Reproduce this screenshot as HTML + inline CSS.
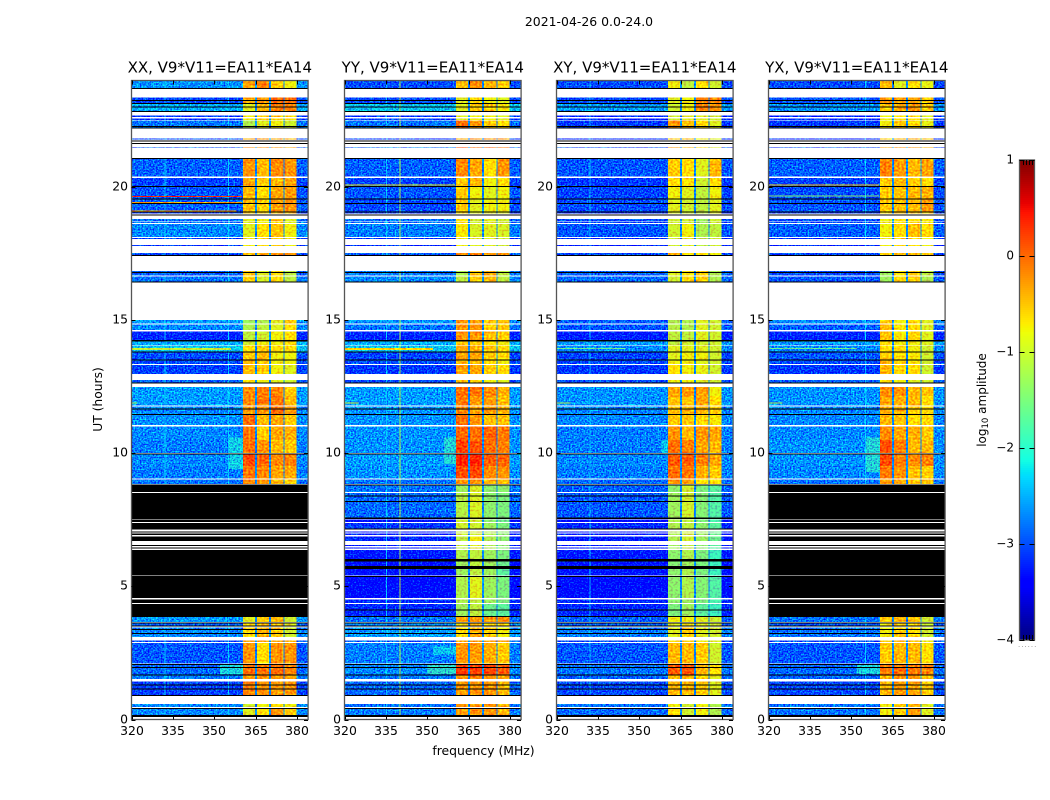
<!DOCTYPE html>
<html lang="en">
<head>
<meta charset="utf-8">
<title>2021-04-26 spectrogram</title>
<style>
html,body{margin:0;padding:0;background:#fff;width:1050px;height:800px;overflow:hidden}
svg{display:block}
text{font-family:"DejaVu Sans","Liberation Sans",sans-serif;fill:#000}
</style>
</head>
<body>
<svg id="figure" xmlns="http://www.w3.org/2000/svg" width="1050" height="800" viewBox="0 0 1050 800">
<defs>
<filter id="bgNoise" filterUnits="userSpaceOnUse" x="0" y="0" width="1050" height="800" color-interpolation-filters="sRGB">
<feTurbulence type="fractalNoise" baseFrequency="0.62 0.68" numOctaves="1" seed="7" result="t"/>
<feColorMatrix in="t" type="matrix" values="0 0 0 0 .5  0 1 0 0 -.09  0 0 0 0 .5  0 0 0 0 1" result="n"/>
<feComposite in="SourceGraphic" in2="n" operator="arithmetic" k1="0" k2="1" k3="1.9" k4="-.95" result="m"/>
<feComposite in="m" in2="SourceAlpha" operator="in"/>
</filter>
<filter id="bandNoise" filterUnits="userSpaceOnUse" x="0" y="0" width="1050" height="800" color-interpolation-filters="sRGB">
<feTurbulence type="fractalNoise" baseFrequency="0.45 0.5" numOctaves="1" seed="3" result="t"/>
<feColorMatrix in="t" type="matrix" values="0 0 0 0 .5  0 1 0 0 -.05  0 0 0 0 .5  0 0 0 0 1" result="n"/>
<feComposite in="SourceGraphic" in2="n" operator="arithmetic" k1="0" k2="1" k3="1" k4="-.5" result="m"/>
<feComposite in="m" in2="SourceAlpha" operator="in"/>
</filter>
</defs>
<text x="589" y="26" font-size="12.45" text-anchor="middle">2021-04-26 0.0-24.0</text>
<text x="483.5" y="755" font-size="12.4" text-anchor="middle">frequency (MHz)</text>
<text transform="translate(102,399.5) rotate(-90)" font-size="12.3" text-anchor="middle">UT (hours)</text>
<text transform="translate(986,400) rotate(-90)" font-size="12" text-anchor="middle">log<tspan font-size="8.5" dy="2">10</tspan><tspan dy="-2"> amplitude</tspan></text>
<text x="1018" y="647" font-size="7" letter-spacing="1" fill="#888" style="fill:#888">......</text>
</svg>
<script>
// Time span of every recorded integration block (hours UT: upper edge, lower edge)
var rowTimes = [
[23.98,23.72],[23.37,23.12],[23.12,22.83],[22.68,22.63],[22.57,22.52],[22.49,22.23],[21.83,21.79],[21.51,21.48],
[21.06,20.39],[20.34,20.01],[20.01,19.55],[19.55,19.06],[19.06,19.01],[18.79,18.73],[18.70,18.65],[18.61,18.13],
[18.08,18.04],[17.82,17.78],[17.53,17.45],[16.85,16.68],[16.64,16.44],[15.00,14.88],[14.84,14.63],[14.58,14.25],
[14.19,14.07],[14.04,13.80],[13.78,13.50],[13.50,13.35],[13.31,12.98],[12.75,12.66],[12.49,12.15],[12.15,11.80],
[11.76,11.47],[11.43,11.06],[11.01,10.50],[10.50,10.01],[9.97,9.52],[9.52,9.06],[9.02,8.85],[8.83,8.54],
[8.51,7.59],[7.52,7.42],[7.38,7.15],[7.07,7.02],[6.98,6.93],[6.87,6.70],[6.55,6.52],[6.46,6.42],
[6.37,6.02],[5.94,5.76],[5.65,5.40],[5.36,4.56],[4.51,4.38],[4.34,3.89],[3.85,3.66],[3.64,3.51],
[3.46,3.10],[2.96,2.91],[2.87,2.11],[2.07,1.67],[1.66,1.53],[1.43,0.92],[0.58,0.47],[0.39,0.17]
];
// log10 amplitude per row: [background, band 1, band 2, band 3, band 4]; null = zero amplitude
var xxLevels = [
[-2.45,-.4,-.2,-.6,-.8],[-2.8,-.5,-.3,-.05,-.1],[-2.3,-.9,-.5,-.2,-.2],[-2.9,-.8,-.6,-.6,-.7],
[-2.9,-.8,-.6,-.6,-.7],[-2.6,-1.2,-.9,-.8,-1.0],[-2.8,-.4,-.3,-.4,-.5],[-2.7,-.3,-.2,-.3,-.4],
[-2.7,-.3,-.5,-.25,-.3],[-2.85,-.4,-.6,-.5,-.4],[-2.75,-.5,-.7,-.4,-.35],[-2.7,-.55,-.65,-.35,-.3],
[-2.9,-.6,-.7,-.5,-.5],[-2.6,-.9,-.8,-.6,-.9],[-2.6,-.9,-.8,-.6,-.9],[-2.5,-.9,-.7,-.55,-.8],
[-2.9,-.8,-.7,-.6,-.8],[-2.9,-.8,-.7,-.6,-.8],[-2.8,-.5,-.4,-.3,-.3],[-2.7,-.6,-.9,-.7,-1.1],
[-2.6,-.65,-.95,-.7,-1.1],[-2.4,-1.3,-1.2,-.9,-.6],[-2.5,-1.2,-1.1,-.9,-.7],[-3,-1.1,-1,-.8,-.7],
[-2.3,-1,-.8,-.8,-.7],[-2.2,-.7,-.6,-.7,-.7],[-2.8,-.6,-.5,-.8,-.8],[-2.8,-.5,-.6,-.8,-.8],
[-2.85,-.5,-.6,-.8,-.9],[-2.7,-.7,-.8,-.9,-1],[-2.4,-.25,-.2,-.25,-.6],[-2.4,-.25,-.15,-.15,-.5],
[-2.5,-.35,-.3,-.1,-.35],[-2.45,-.1,-.5,-.4,-.6],[-2.5,-.15,-.6,-.4,-.45],[-2.55,-.1,-.3,-.5,-.6],
[-2.5,.1,-.05,-.25,-.2],[-2.55,-.15,-.25,-.4,-.4],[-2.6,-.2,-.3,-.5,-.6],null,
null,null,null,null,null,null,null,null,
null,null,null,null,null,null,[-2.4,-.9,-.6,-.5,-1],[-2.7,-.7,-.5,-.5,-.9],
[-2.5,-.7,-.5,-.6,-1],[-2.8,-.4,-.4,-.4,-.5],[-2.75,-.3,-.7,-.3,-.3],[-2.65,-.1,-.15,-.1,-.2],
[-2.55,-.3,-.3,-.3,-.4],[-2.85,-.2,-.3,-.35,-.3],[-2.5,-1,-.8,-.7,-.8],[-2.5,-.9,-.7,-.3,-.6]
];
var yyLevels = [
[-2.8,-.5,-.25,-.5,-.6],[-2.8,-.9,-.7,-.8,-.9],[-2.2,-.9,-.6,-.6,-.75],[-2.9,-.9,-.8,-.8,-.9],
[-2.9,-.9,-.8,-.8,-.9],[-2.6,-.1,-.35,-.6,-.7],[-2.9,-.4,-.3,-.3,-.4],[-2.6,0,-.1,-.05,-.1],
[-2.7,-.25,-.4,-.7,-.3],[-2.85,-.6,-.5,-.8,-.7],[-2.75,-.6,-.8,-.9,-.8],[-2.8,-.6,-.9,-.8,-.8],
[-2.9,-.7,-.9,-.9,-.9],[-2.6,-.7,-1,-.9,-1],[-2.6,-.7,-1,-.9,-1],[-2.55,-.75,-.95,-.9,-.95],
[-3,-.8,-.9,-.9,-1],[-3,-.8,-.9,-.9,-1],[-2.7,-.25,-.2,-.3,-.3],[-2.55,-1.2,-.6,-.45,-1.1],
[-2.5,-1.1,-.6,-.5,-1.1],[-2.45,-.35,-.35,-.6,-.6],[-2.6,-.3,-.3,-.6,-.6],[-3,-.3,-.3,-.55,-.6],
[-2.3,-.6,-.6,-.7,-.8],[-2.2,-.4,-.45,-.6,-.7],[-2.85,-.4,-.4,-.6,-.7],[-2.8,-.5,-.5,-.7,-.8],
[-2.9,-.35,-.4,-.6,-.7],[-2.8,-.5,-.6,-.8,-.9],[-2.4,-.1,-.1,-.25,-.45],[-2.4,-.15,-.35,-.35,-.55],
[-2.45,-.25,-.4,-.35,-.45],[-2.45,-.1,-.3,-.55,-.55],[-2.45,-.05,-.1,-.05,-.15],[-2.45,.15,.05,-.1,-.2],
[-2.4,.3,.3,0,-.05],[-2.45,.1,.1,-.25,-.3],[-2.6,-.3,-.3,-.5,-.5],[-2.6,-1.3,-.95,-1.4,-1.4],
[-2.65,-1.15,-.95,-1.4,-1.5],[-3.2,-1,-1,-1.4,-1.6],[-2.9,-1,-1,-1.3,-1.5],[-3.1,-1,-1,-1.2,-1.4],
[-3.1,-1,-1,-1.2,-1.4],[-3,-1.1,-.8,-1.2,-1.4],[-3.1,-1.1,-.9,-1.2,-1.4],[-3.1,-1.1,-.9,-1.2,-1.4],
[-3.1,-1.2,-1.1,-1.3,-1.5],[-3.15,-1.3,-1.1,-1.3,-1.6],[-3.15,-1.3,-1.1,-1.3,-1.7],[-3.2,-1.2,-.9,-1.3,-1.5],
[-3,-1.2,-1.1,-1.3,-1.5],[-3,-1.3,-1.1,-1.6,-1.7],[-2.6,-.4,-.3,-.3,-.3],[-2.5,-.8,-.5,-.7,-.7],
[-2.4,-.7,-.45,-.6,-.8],[-2.7,-.4,-.3,-.4,-.4],[-2.55,-.3,-.35,-.45,-.6],[-2.5,.2,.15,.1,0],
[-2.6,-.3,-.2,-.3,-.4],[-2.65,-.35,-.3,-.3,-.5],[-2.6,-.35,-.3,-.3,-.5],[-2.55,-.35,-.3,-.3,-.5]
];
var xyLevels = [
[-2.8,-.8,-1.1,-.7,-1],[-2.8,-.9,-.8,-.2,-.2],[-2.4,-1,-.8,-.2,-.3],[-3,-1,-.9,-.9,-1],
[-3,-1,-.9,-.9,-1],[-2.9,-.3,-.5,-.7,-.9],[-3,-.6,-.5,-.8,-.9],[-2.8,-.3,-.5,-.6,-.9],
[-2.75,-.6,-.7,-.9,-.5],[-2.9,-.7,-.7,-1,-.7],[-2.85,-.8,-.9,-1.1,-.8],[-2.8,-.9,-1,-1.1,-.9],
[-3,-.9,-1,-1.1,-.9],[-2.8,-1,-1,-1.3,-1],[-2.8,-1,-1,-1.3,-1],[-2.75,-1,-.8,-1.2,-1.1],
[-3,-1,-.9,-1.1,-1],[-3,-1,-.9,-1.1,-1],[-2.8,-.4,-.7,-.7,-.8],[-2.7,-.9,-.7,-.6,-1.2],
[-2.65,-1,-.7,-.6,-1.2],[-2.7,-1.2,-1.2,-.9,-1],[-2.75,-1.15,-1.2,-.9,-1],[-3.05,-1.1,-1.1,-.9,-1],
[-2.4,-1.1,-1,-1,-1],[-2.5,-.9,-.9,-.9,-1],[-2.85,-.9,-.8,-.8,-1],[-2.8,-.8,-.8,-.9,-1],
[-2.9,-.7,-.8,-.85,-1],[-2.8,-.8,-.8,-.9,-1],[-2.45,-.4,-.3,-.35,-.8],[-2.45,-.55,-.55,-.4,-.7],
[-2.5,-.55,-.5,-.5,-.6],[-2.5,-.6,-.6,-.7,-.75],[-2.55,-.3,-.5,-.3,-.4],[-2.55,-.1,-.2,-.4,-.5],
[-2.5,0,0,-.2,-.4],[-2.55,-.1,-.15,-.45,-.6],[-2.65,-.3,-.4,-.7,-.7],[-2.7,-1.4,-1,-1.5,-1.7],
[-2.75,-1.3,-1,-1.45,-1.75],[-3.2,-1.2,-1.1,-1.5,-1.8],[-3,-1.2,-1.1,-1.4,-1.7],[-3.1,-1.2,-1,-1.3,-1.6],
[-3.1,-1.2,-1,-1.3,-1.6],[-3.1,-1.2,-1,-1.3,-1.6],[-3.1,-1.3,-1.1,-1.4,-1.7],[-3.1,-1.3,-1.1,-1.4,-1.7],
[-3.1,-1.4,-1.2,-1.5,-1.9],[-3.15,-1.45,-1.3,-1.5,-1.9],[-3.15,-1.4,-1.2,-1.5,-1.9],[-3.2,-1.4,-1.2,-1.45,-1.75],
[-3,-1.4,-1.3,-1.5,-1.8],[-3,-1.5,-1.3,-1.7,-1.9],[-2.7,-.8,-.8,-.9,-1],[-2.7,-.9,-.8,-.9,-1],
[-2.55,-.9,-.6,-.9,-1],[-2.8,-.7,-.6,-.8,-.9],[-2.75,-.5,-.5,-.6,-1],[-2.6,0,.05,-.5,-.7],
[-2.7,-.5,-.5,-.7,-.9],[-2.8,-.5,-.5,-.6,-.9],[-2.6,-.8,-1,-.8,-1.2],[-2.65,-.7,-1,-.8,-1.2]
];
var yxLevels = [
[-2.8,-.5,-.9,-.7,-.85],[-2.75,-.3,-.4,-.4,-.6],[-2.45,-.6,-.45,-.35,-.6],[-3,-.8,-.7,-.7,-.9],
[-3,-.8,-.7,-.7,-.9],[-2.9,-.8,-.6,-.7,-.85],[-3,-.6,-.4,-.5,-.6],[-2.8,-.4,-.3,-.3,-.5],
[-2.7,-.2,-.35,-.5,-.4],[-2.85,-.6,-.5,-.6,-.7],[-2.8,-.6,-.55,-.5,-.45],[-2.75,-.6,-.55,-.5,-.35],
[-2.9,-.7,-.6,-.6,-.6],[-2.8,-.8,-.7,-.7,-.75],[-2.8,-.8,-.7,-.7,-.75],[-2.7,-.8,-.7,-.55,-.7],
[-3,-.8,-.7,-.7,-.8],[-3,-.8,-.7,-.7,-.8],[-2.8,-.6,-.5,-.5,-.6],[-2.8,-1.3,-.7,-.6,-1.1],
[-2.75,-1.3,-.7,-.6,-1.2],[-2.5,-.6,-.8,-.7,-.9],[-2.7,-.5,-.75,-.7,-.9],[-3,-.55,-.75,-.65,-.9],
[-2.4,-.7,-.8,-.8,-.9],[-2.5,-.7,-.7,-.8,-1],[-2.75,-.6,-.7,-.75,-1],[-2.8,-.45,-.65,-.75,-1],
[-2.9,-.5,-.7,-.7,-1],[-2.7,-.7,-.8,-.9,-1],[-2.45,-.25,-.3,-.5,-.55],[-2.45,-.4,-.45,-.5,-.7],
[-2.5,-.45,-.5,-.6,-.7],[-2.5,-.5,-.55,-.7,-.7],[-2.5,-.25,-.4,-.45,-.6],[-2.45,.05,-.2,-.5,-.5],
[-2.45,.1,-.2,-.25,-.2],[-2.5,-.15,-.3,-.55,-.6],[-2.6,-.35,-.4,-.6,-.6],null,
null,null,null,null,null,null,null,null,
null,null,null,null,null,null,[-2.6,-.6,-.5,-.55,-1],[-2.75,-.8,-.6,-.7,-1],
[-2.6,-.8,-.6,-.7,-1],[-2.8,-.6,-.5,-.6,-.8],[-2.75,-.6,-.5,-.5,-.7],[-2.65,-.15,-.1,-.15,-.2],
[-2.7,-.5,-.3,-.3,-.6],[-2.8,-.5,-.35,-.4,-.6],[-2.6,-.8,-.6,-.5,-.9],[-2.6,-.8,-.6,-.35,-.9]
];
// Frequency channels: [low MHz, high MHz, index into a level row; -1 = gap between bands]
var channels = [[320,360.4,0],[360.4,364.7,1],[364.7,365.5,-1],[365.5,369.9,2],[369.9,370.6,-1],[370.6,375,3],[375,375.5,-1],[375.5,379.8,4],[379.8,384,0]];
var gapLevel = -2.65;
// Zero-amplitude integrations shared by all four products (hours: upper, lower)
var zeroRows = [
[23.72,23.68],[23.27,23.23],[23.15,23.12],[23.02,22.99],[22.85,22.82],[22.29,22.26],[22.23,22.20],[21.75,21.72],[21.65,21.62],[21.09,21.05],
[20.04,20.00],[19.56,19.53],[19.40,19.36],[19.08,19.04],[18.96,18.93],[17.45,17.41],[16.81,16.77],[16.45,16.41],[14.25,14.19],[13.82,13.78],
[13.52,13.48],[12.66,12.62],[11.68,11.65],[11.47,11.44],[10.00,9.96],[8.83,8.81],[8.42,8.40],[8.20,8.17],[7.59,7.53],[7.17,7.14],
[6.02,5.94],[5.77,5.66],[5.39,5.36],[4.13,4.09],[3.89,3.85],[3.65,3.61],[3.54,3.51],[3.40,3.36],[3.24,3.21],[2.08,2.05],
[1.97,1.93],[1.69,1.66],[1.32,1.28],[1.17,1.13],[0.92,0.88],[0.43,0.39],[0.16,0.09]
];
// Narrow interference lines per product: [hour, low MHz, high MHz, level]
var xxRfi = [[19.67,320,360,.3],[19.43,320,360,-.35],[19.12,320,358,-.4],[13.96,320,356,-1],[13.92,320,356,-1.1],[11.9,320,322,-1.2]];
var yyRfi = [[20.09,320,360,-.8],[13.96,320,352,-.6],[13.92,320,352,-.7],[11.9,320,325,-1]];
var xyRfi = [[13.96,320,345,-1.6],[11.9,320,325,-1.2]];
var yxRfi = [[20.09,320,360,-.6],[19.68,320,360,-1.4],[13.96,320,352,-1.6],[11.9,320,325,-1.2]];
// Extended emission patches per product: [upper hour, lower hour, low MHz, high MHz, level]
var xxPatches = [[10.6,9.4,355,360.4,-2.15],[2.1,1.7,352,360.4,-2.1]];
var yyPatches = [[10.6,9.6,356,360.4,-2.05],[2.1,1.7,350,360.4,-2.0],[2.75,2.45,352,360.4,-2.2]];
var xyPatches = [[10.5,10,358,360.4,-2.2]];
var yxPatches = [[10.6,9.3,355,360.4,-2.05],[2.1,1.7,352,360.4,-2.1]];
// Weak vertical channels per product: [MHz, level]
var xxSpikes = [[332,-2.3],[355,-2.3]];
var yySpikes = [[340,-1.2],[335,-2.35]];
var xySpikes = [[332,-2.4]];
var yxSpikes = [[355,-2.3]];
var panelTitles = ['XX, V9*V11=EA11*EA14','YY, V9*V11=EA11*EA14','XY, V9*V11=EA11*EA14','YX, V9*V11=EA11*EA14'];
var panelKeys = ['xx','yy','xy','yx'];
var panelLevels = [xxLevels,yyLevels,xyLevels,yxLevels];
var panelRfi = [xxRfi,yyRfi,xyRfi,yxRfi];
var panelPatches = [xxPatches,yyPatches,xyPatches,yxPatches];
var panelSpikes = [xxSpikes,yySpikes,xySpikes,yxSpikes];
var freqTicks = [320,335,350,365,380];
var hourTicks = [0,5,10,15,20];
var colorbarTicks = [1,0,-1,-2,-3,-4];

var NS = 'http://www.w3.org/2000/svg';
var fig = document.getElementById('figure');
var panelLeft = [131.5,344.5,556.5,768.5];
var panelWidth = 176.6;
function yScale(h){return 719.5-h*26.625;}
function xScale(p,f){return panelLeft[p]+(f-320)*panelWidth/64;}
function cbScale(v){return 640-(v+4)*96;}
function ramp(t,pts){
  for(var i=1;i<pts.length;i++){
    if(t<=pts[i][0]){
      var a=pts[i-1],b=pts[i];
      return a[1]+(b[1]-a[1])*(t-a[0])/(b[0]-a[0]);
    }
  }
  return pts[pts.length-1][1];
}
function jet(v){
  var t=Math.max(0,Math.min(1,(v+4)/5));
  var r=ramp(t,[[0,0],[.35,0],[.66,1],[.89,1],[1,.5]]);
  var g=ramp(t,[[0,0],[.125,0],[.375,1],[.64,1],[.91,0],[1,0]]);
  var b=ramp(t,[[0,.5],[.11,1],[.34,1],[.65,0],[1,0]]);
  return 'rgb('+Math.round(r*255)+','+Math.round(g*255)+','+Math.round(b*255)+')';
}
function rect(parent,x,y,w,h,fill){
  var r=document.createElementNS(NS,'rect');
  r.setAttribute('x',x.toFixed(2));
  r.setAttribute('y',y.toFixed(2));
  r.setAttribute('width',w.toFixed(2));
  r.setAttribute('height',h.toFixed(2));
  r.setAttribute('fill',fill);
  r.setAttribute('shape-rendering','crispEdges');
  parent.appendChild(r);
  return r;
}
function group(parent){
  var g=document.createElementNS(NS,'g');
  parent.appendChild(g);
  return g;
}
function line(parent,x1,y1,x2,y2){
  var l=document.createElementNS(NS,'line');
  l.setAttribute('x1',x1);
  l.setAttribute('y1',y1);
  l.setAttribute('x2',x2);
  l.setAttribute('y2',y2);
  l.setAttribute('stroke','#000');
  l.setAttribute('stroke-width','1');
  l.setAttribute('shape-rendering','crispEdges');
  parent.appendChild(l);
  return l;
}
function label(parent,x,y,str,size,anchor){
  var t=document.createElementNS(NS,'text');
  t.setAttribute('x',x);
  t.setAttribute('y',y);
  t.setAttribute('font-size',size);
  t.setAttribute('text-anchor',anchor);
  t.textContent=str;
  parent.appendChild(t);
  return t;
}

panelKeys.forEach(function(key,p){
  var levels=panelLevels[p];
  var left=panelLeft[p], right=left+panelWidth, top=yScale(24), bottom=yScale(0);
  var panel=group(fig);
  
  

  var bgCells=group(panel);
  
  
  bgCells.setAttribute('filter','url(#bgNoise)');
  var bandCells=group(panel);
  
  
  bandCells.setAttribute('filter','url(#bandNoise)');
  var zeroCells=group(panel);
  
  

  rowTimes.forEach(function(span,i){
    var row=levels[i];
    var y0=yScale(span[0]), h=yScale(span[1])-y0;
    if(row===null){
      var blk=rect(zeroCells,left,y0,panelWidth,h,'#000');
      
      
      return;
    }
    channels.forEach(function(ch){
      var val=ch[2]<0?gapLevel:row[ch[2]];
      var x0=xScale(p,ch[0]), x1=xScale(p,ch[1]);
      var target=(ch[2]===0)?bgCells:bandCells;
      var c=rect(target,x0,y0,x1-x0,h,jet(val));
      
      
    });
    panelSpikes[p].forEach(function(sp){
      var sx=xScale(p,sp[0]);
      var s=rect(bandCells,sx,y0,1,h,jet(sp[1]));
      
      
    });
  });
  panelPatches[p].forEach(function(pt){
    var x0=xScale(p,pt[2]), x1=xScale(p,pt[3]);
    rowTimes.forEach(function(span,i){
      if(levels[i]===null){return;}
      var hi=Math.min(span[0],pt[0]), lo=Math.max(span[1],pt[1]);
      if(hi<=lo){return;}
      var c=rect(bgCells,x0,yScale(hi),x1-x0,yScale(lo)-yScale(hi),jet(pt[4]));
      
      
    });
  });
  panelRfi[p].forEach(function(rf){
    var x0=xScale(p,rf[1]), x1=xScale(p,rf[2]);
    var c=rect(bandCells,x0,yScale(rf[0]),x1-x0,1,jet(rf[3]));
    
    
  });
  zeroRows.forEach(function(z){
    var y0=yScale(z[0]);
    var c=rect(zeroCells,left,y0,panelWidth,Math.max(1,yScale(z[1])-y0),'#000');
    
    
  });

  var frame=document.createElementNS(NS,'rect');
  frame.setAttribute('x',left);
  frame.setAttribute('y',top);
  frame.setAttribute('width',panelWidth);
  frame.setAttribute('height',bottom-top);
  frame.setAttribute('fill','none');
  frame.setAttribute('stroke','#555');
  frame.setAttribute('stroke-width','1.3');
  
  
  panel.appendChild(frame);

  freqTicks.forEach(function(f){
    var x=Math.round(xScale(p,f))+.5;
    var t1=line(panel,x,bottom,x,bottom-4);
    
    
    var t2=line(panel,x,top,x,top+4);
    
    
    var tl=label(panel,x-.5,735,String(f),12.4,'middle');
    
    
  });
  hourTicks.forEach(function(h){
    var y=Math.round(yScale(h))+.5;
    var t1=line(panel,left,y,left+4,y);
    
    
    var t2=line(panel,right,y,right-4,y);
    
    
    var tl=label(panel,left-3.5,y+3,String(h),12.4,'end');
    
    
  });
  var ttl=label(panel,left+panelWidth/2,72.5,panelTitles[p],15,'middle');
  
  
});

// Colour bar
var cb=group(fig);


var cbLeft=1019.5, cbWidth=15;
for(var px=0;px<480;px+=2){
  var v=-4+(px+1)/96;
  var seg=rect(cb,cbLeft,cbScale(v)-1,cbWidth,2,jet(v));
  
  
}
var cbFrame=document.createElementNS(NS,'rect');
cbFrame.setAttribute('x',cbLeft);
cbFrame.setAttribute('y',160);
cbFrame.setAttribute('width',cbWidth);
cbFrame.setAttribute('height',480);
cbFrame.setAttribute('fill','none');
cbFrame.setAttribute('stroke','#555');
cbFrame.setAttribute('stroke-width','1.3');


cb.appendChild(cbFrame);
colorbarTicks.forEach(function(v){
  var y=Math.round(cbScale(v))+.5;
  var a=line(cb,cbLeft,y,cbLeft+5,y);
  
  
  var b=line(cb,cbLeft+cbWidth,y,cbLeft+cbWidth-5,y);
  
  
  var str=(v<0?'\u2212'+Math.abs(v):String(v));
  var t=label(cb,1014,y+3,str,12,'end');
  
  
});
for(var k=1;k<5;k++){
  var mx=Math.round(cbLeft+k*cbWidth/5)+.5;
  var m1=line(cb,mx,160,mx,165);
  
  
  var m2=line(cb,mx,640,mx,635);
  
  
}
</script>
</body>
</html>
